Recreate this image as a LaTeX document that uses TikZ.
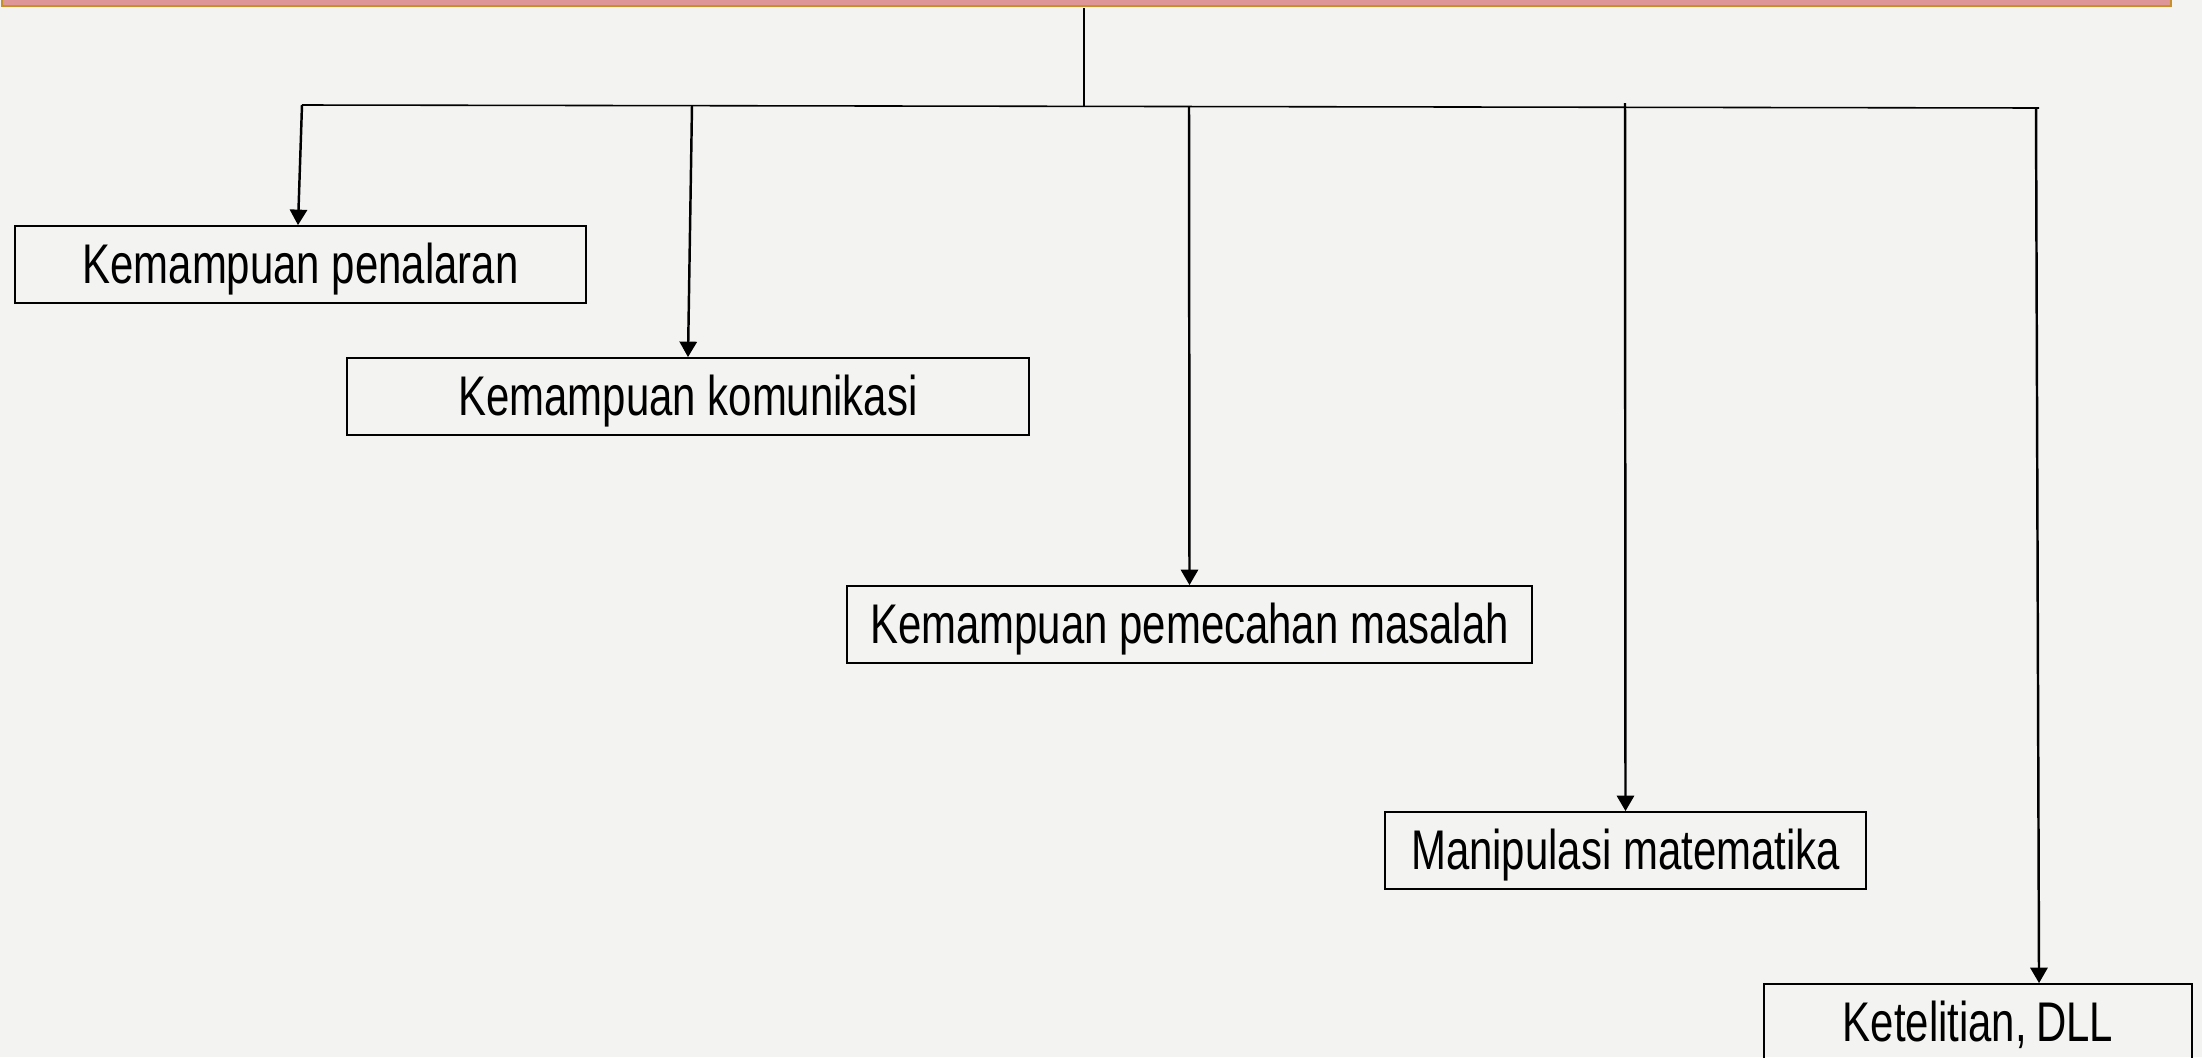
\documentclass[tikz,border=0pt]{standalone}
\usepackage{fontspec}
\setmainfont{Liberation Sans}[FakeStretch=0.75]
\usetikzlibrary{arrows.meta}
\definecolor{bgc}{HTML}{F3F3F1}
\definecolor{barpink}{HTML}{DE9696}
\definecolor{bargold}{HTML}{C8902A}
\tikzset{
  box/.style={draw=black, line width=0.5pt, minimum height=0.77cm, inner sep=0pt,
    text height=13.6pt, text depth=2.8pt,
    font=\fontsize{15.9}{18}\selectfont, text=black},
  arr/.style={line width=0.7pt, -{Triangle[length=4.4pt,width=4.9pt]}},
  bus/.style={line width=0.45pt},
  trunk/.style={line width=0.55pt}
}
\begin{document}
\begin{tikzpicture}[x=0.01cm,y=-0.01cm]
\fill[bgc] (0,0) rectangle (2202,1057);
\useasboundingbox (0,0) rectangle (2202,1057);
% top bar
\node[draw=bargold, fill=barpink, line width=0.55pt, inner sep=0pt,
  minimum width=21.68cm, minimum height=0.4cm, anchor=south west] (bar) at (1,7.3) {};
\coordinate (top) at (1084,8);
\coordinate (mid) at (1084,105.5);
\coordinate (L) at (302,105);
\coordinate (R) at (2039,108);
\coordinate (b1) at (302,105);
\coordinate (b2) at (692,105.5);
\coordinate (b3) at (1189,106.5);
\coordinate (b4) at (1625,103);
\coordinate (b5) at (2036,108);
% boxes
\node[box, minimum width=5.71cm] (n1) at (300.5,264.5) {Kemampuan penalaran};
\node[box, minimum width=6.82cm] (n2) at (688,396.5) {Kemampuan komunikasi};
\node[box, minimum width=6.85cm] (n3) at (1189.5,624.5) {Kemampuan pemecahan masalah};
\node[box, minimum width=4.81cm] (n4) at (1625.5,850.5) {Manipulasi matematika};
\node[box, minimum width=4.28cm] (n5) at (1978,1022.5) {Ketelitian,\,DLL};
% connectors
\draw[trunk] (top) -- (mid);
\draw[bus] (L) -- (R);
\draw[arr] (b1) -- ([xshift=-0.025cm]n1.north);
\draw[arr] (b2) -- (n2.north);
\draw[arr] (b3) -- (n3.north);
\draw[arr] (b4) -- (n4.north);
\draw[arr] (b5) -- ([xshift=0.61cm]n5.north);
\end{tikzpicture}
\end{document}
